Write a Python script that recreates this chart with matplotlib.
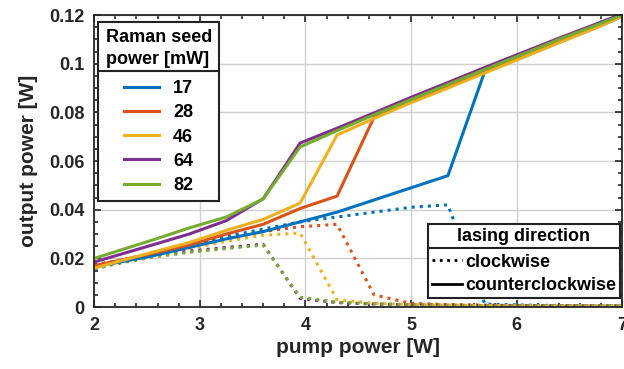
import matplotlib
matplotlib.use("Agg")
import matplotlib.pyplot as plt
from matplotlib.lines import Line2D
from matplotlib.ticker import MultipleLocator

plt.rcParams['font.family'] = ['Liberation Sans', 'DejaVu Sans']
plt.rcParams['font.weight'] = 'bold'
plt.rcParams['axes.labelweight'] = 'bold'

# pump power [W]
pump = [2.0, 2.55, 2.9, 3.25, 3.6, 3.95, 4.3, 4.65, 5.0, 5.35, 5.7, 6.05, 6.4, 6.75, 7.0]
seed_labels = ["17", "28", "46", "64", "82"]
colours = ["#0072BD", "#D95319", "#EDB120", "#7E2F8E", "#77AC30"]

# counterclockwise output power [W]
ccw_17 = [0.0165, 0.021, 0.0245, 0.028, 0.031, 0.035, 0.039, 0.044, 0.049, 0.054, 0.097, 0.1025, 0.1088, 0.1148, 0.1195]
ccw_28 = [0.017, 0.022, 0.0255, 0.030, 0.034, 0.0405, 0.0456, 0.078, 0.0843, 0.0905, 0.0965, 0.1027, 0.109, 0.115, 0.1197]
ccw_46 = [0.016, 0.0225, 0.0265, 0.0315, 0.036, 0.0427, 0.0707, 0.0775, 0.084, 0.090, 0.0962, 0.1024, 0.1086, 0.1147, 0.1195]
ccw_64 = [0.0185, 0.0255, 0.030, 0.0355, 0.0445, 0.0674, 0.0735, 0.0798, 0.0862, 0.0923, 0.0985, 0.1045, 0.1105, 0.1163, 0.1205]
ccw_82 = [0.020, 0.0275, 0.0325, 0.037, 0.0444, 0.0658, 0.0725, 0.079, 0.0853, 0.0915, 0.0977, 0.1038, 0.110, 0.1158, 0.120]

# clockwise output power [W]
cw_17 = [0.0155, 0.022, 0.0255, 0.029, 0.032, 0.035, 0.037, 0.039, 0.041, 0.042, 0.0012, 0.0008, 0.0006, 0.0005, 0.0005]
cw_28 = [0.017, 0.022, 0.025, 0.028, 0.031, 0.033, 0.034, 0.005, 0.0015, 0.001, 0.0008, 0.0006, 0.0005, 0.0005, 0.0005]
cw_46 = [0.016, 0.021, 0.024, 0.027, 0.0295, 0.0304, 0.003, 0.0015, 0.001, 0.0008, 0.0006, 0.0005, 0.0005, 0.0005, 0.0005]
cw_64 = [0.0175, 0.021, 0.023, 0.0245, 0.0258, 0.0035, 0.0018, 0.0012, 0.0009, 0.0007, 0.0006, 0.0005, 0.0005, 0.0005, 0.0005]
cw_82 = [0.016, 0.0205, 0.0225, 0.024, 0.0255, 0.004, 0.002, 0.0013, 0.001, 0.0008, 0.0006, 0.0005, 0.0005, 0.0005, 0.0005]

ccw = [ccw_17, ccw_28, ccw_46, ccw_64, ccw_82]
cw = [cw_17, cw_28, cw_46, cw_64, cw_82]

text_col = "#262626"

fig = plt.figure(figsize=(6.24, 3.69), dpi=100)
ax = fig.add_axes([0.151, 0.168, 0.846, 0.791])

seed_handles = []
for vals, col in zip(cw, colours):
    ax.plot(pump, vals, color=col, linestyle=":", lw=2.2)
for vals, col, lab in zip(ccw, colours, seed_labels):
    h, = ax.plot(pump, vals, color=col, lw=2.2, label=lab)
    seed_handles.append(h)

ax.set_xlim(2, 7)
ax.set_ylim(0, 0.12)
ax.xaxis.set_major_locator(MultipleLocator(1))
ax.xaxis.set_minor_locator(MultipleLocator(0.2))
ax.yaxis.set_minor_locator(MultipleLocator(0.005))
ax.set_yticks([0, 0.02, 0.04, 0.06, 0.08, 0.1, 0.12], ["0", "0.02", "0.04", "0.06", "0.08", "0.1", "0.12"])
ax.grid(True, which="major", color="#d0d0d0", lw=1.0)
ax.set_axisbelow(True)
ax.tick_params(which="both", direction="in", top=True, right=True, colors=text_col,
               labelsize=13, width=1.2)
ax.tick_params(which="major", length=5, pad=7)
ax.tick_params(which="minor", length=3)
for sp in ax.spines.values():
    sp.set_color(text_col)
    sp.set_linewidth(1.3)

ax.set_xlabel("pump power [W]", fontsize=15, color=text_col, labelpad=3)
ax.set_ylabel("output power [W]", fontsize=15, color=text_col, labelpad=8)

leg1 = ax.legend(handles=seed_handles, title="Raman seed\npower [mW]", loc="upper left",
                 bbox_to_anchor=(0.008, 0.977), borderaxespad=0, fontsize=13,
                 title_fontproperties={"size": 13, "weight": "bold"},
                 fancybox=False, framealpha=1, edgecolor="#222222",
                 handlelength=1.9, handletextpad=0.8, labelspacing=0.4, borderpad=0.4)
leg1.get_frame().set_linewidth(1.5)
leg1._legend_box.sep = 9
leg1.get_title().set_linespacing(1.35)
ax.add_artist(leg1)

dir_handles = [Line2D([], [], color="black", linestyle=":", lw=2),
               Line2D([], [], color="black", lw=2)]
leg2 = ax.legend(handles=dir_handles, labels=["clockwise", "counterclockwise"],
                 title="lasing direction", loc="lower right",
                 bbox_to_anchor=(0.996, 0.031), borderaxespad=0, fontsize=13,
                 title_fontproperties={"size": 13, "weight": "bold"},
                 fancybox=False, framealpha=1, edgecolor="#222222",
                 handlelength=1.7, handletextpad=0.15, labelspacing=0.35, borderpad=0.22)
leg2.get_frame().set_linewidth(1.5)
leg2._legend_box.sep = 6

# separator line under each legend title
fig.canvas.draw()
inv = fig.transFigure.inverted()
for leg in (leg1, leg2):
    frame = leg.get_frame().get_window_extent()
    title = leg.get_title().get_window_extent()
    y_sep = title.y0 - 3
    (x0, y0) = inv.transform((frame.x0, y_sep))
    (x1, _) = inv.transform((frame.x1, y_sep))
    fig.add_artist(Line2D([x0, x1], [y0, y0], color="#222222", lw=1.5))

fig.savefig("out.png", dpi=100)
